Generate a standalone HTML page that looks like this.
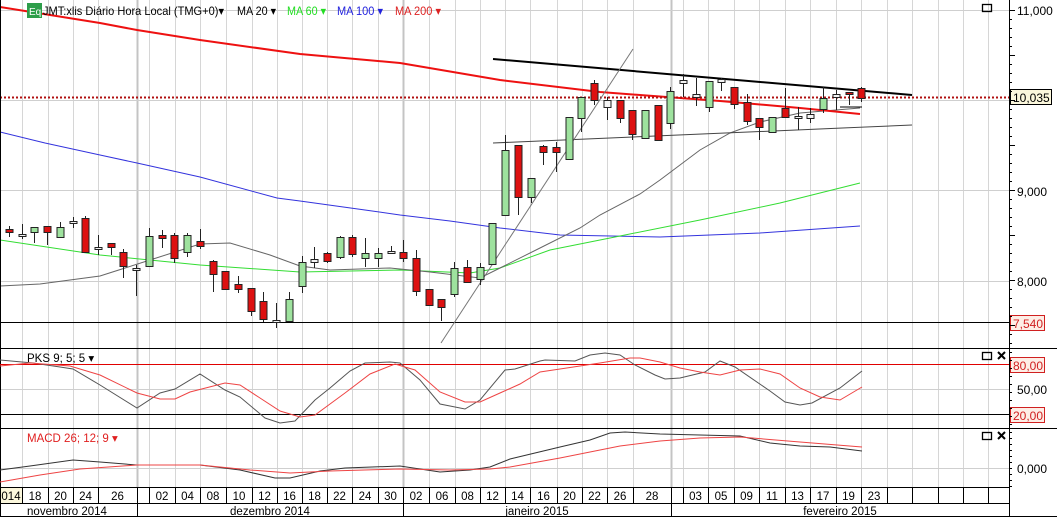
<!DOCTYPE html>
<html><head><meta charset="utf-8"><style>
html,body{margin:0;padding:0;background:#fff;}
svg{display:block;font-family:"Liberation Sans",sans-serif;}
</style></head><body>
<svg id="s" width="1057" height="517" xmlns="http://www.w3.org/2000/svg">
<rect x="0" y="0" width="1057" height="517" fill="#fff"/>
<g id="grid" stroke="#c8c8c8" stroke-width="1"></g>
<g stroke="#cfcfcf" stroke-width="1">
<line x1="0" y1="10.5" x2="1009" y2="10.5"/>
<line x1="0" y1="100.5" x2="1009" y2="100.5"/>
<line x1="0" y1="190.5" x2="1009" y2="190.5"/>
<line x1="0" y1="281.5" x2="1009" y2="281.5"/>
<line x1="0" y1="389.5" x2="1009" y2="389.5"/>
<line x1="0" y1="468.5" x2="1009" y2="468.5"/>
</g>
<g id="mas" fill="none"></g>
<line x1="0" y1="97.5" x2="1009" y2="97.5" stroke="#b01010" stroke-width="2" stroke-dasharray="2,2"/>
<line x1="0" y1="322.5" x2="1009" y2="322.5" stroke="#000" stroke-width="1"/>
<line x1="493" y1="59" x2="912" y2="95" stroke="#000" stroke-width="2"/>
<line x1="493" y1="143" x2="912" y2="125" stroke="#444" stroke-width="1"/>
<line x1="441" y1="343" x2="633" y2="49" stroke="#777" stroke-width="1"/>
<line x1="840" y1="107" x2="862" y2="107" stroke="#000" stroke-width="1"/>
<g id="candles"></g>
<g stroke="#000" stroke-width="1">
<line x1="0.5" y1="0" x2="0.5" y2="517"/>
<line x1="1009.5" y1="0" x2="1009.5" y2="517"/>
<line x1="0" y1="348.5" x2="1057" y2="348.5"/>
<line x1="0" y1="428.5" x2="1057" y2="428.5"/>
<line x1="0" y1="487.5" x2="1009" y2="487.5"/>
<line x1="0" y1="503.5" x2="1009" y2="503.5"/>
<line x1="0" y1="516.5" x2="1057" y2="516.5"/>
</g>
<line x1="0" y1="364.5" x2="1009" y2="364.5" stroke="#e00000" stroke-width="1"/>
<line x1="0" y1="414.5" x2="1009" y2="414.5" stroke="#000" stroke-width="1"/>
<g id="ind" fill="none"></g>
<g id="axis" font-size="11.5" fill="#000"></g>
<rect x="27" y="3" width="15" height="15" fill="#2e9e4a"/>
<text x="29" y="15" font-size="10" fill="#fff">Eq</text>
<text x="43" y="15" font-size="12" textLength="181" lengthAdjust="spacingAndGlyphs">JMT:xlis Diário Hora Local (TMG+0)▾</text>
<text x="237" y="15" font-size="12" textLength="39" lengthAdjust="spacingAndGlyphs">MA 20 ▾</text>
<text x="287" y="15" font-size="12" fill="#22dd22" textLength="39" lengthAdjust="spacingAndGlyphs">MA 60 ▾</text>
<text x="337" y="15" font-size="12" fill="#2222dd" textLength="46" lengthAdjust="spacingAndGlyphs">MA 100 ▾</text>
<text x="395" y="15" font-size="12" fill="#dd2222" textLength="46" lengthAdjust="spacingAndGlyphs">MA 200 ▾</text>
<text x="27" y="362" font-size="11.5">PKS 9; 5; 5 ▾</text>
<text x="27" y="442" font-size="11.5" fill="#e02020">MACD 26; 12; 9 ▾</text>
<g fill="none" stroke="#000" stroke-width="1.3">
<rect x="982.5" y="4.5" width="9" height="7"/>
<rect x="982.5" y="352.5" width="9" height="7"/>
<rect x="982.5" y="432.5" width="9" height="7"/>
<path d="M998 352 l7 7 M1005 352 l-7 7 M998 432 l7 7 M1005 432 l-7 7" stroke-width="2"/>
</g>
<g font-size="12">
<text x="1017" y="15">11,000</text>
<rect x="1010.5" y="89.5" width="41" height="15" fill="#fbf7dc" stroke="#000"/>
<text x="1013" y="102">10,035</text>
<text x="1017" y="196">9,000</text>
<text x="1017" y="286">8,000</text>
<rect x="1010.5" y="315.5" width="34" height="15" fill="#fdeee6" stroke="#d02020"/>
<text x="1013" y="328" fill="#d02020">7,540</text>
<rect x="1010.5" y="357.5" width="34" height="15" fill="#fdeee6" stroke="#d02020"/>
<text x="1013" y="370" fill="#d02020">80,00</text>
<text x="1017" y="394">50,00</text>
<rect x="1010.5" y="407.5" width="34" height="15" fill="#fdeee6" stroke="#d02020"/>
<text x="1013" y="420" fill="#d02020">20,00</text>
<text x="1017" y="473">0,000</text>
</g>
<g id="ticks" stroke="#000"></g>
</svg>
<script>
var NS="http://www.w3.org/2000/svg";
function el(p,t,a){var e=document.createElementNS(NS,t);for(var k in a)e.setAttribute(k,a[k]);p.appendChild(e);return e;}
var b=[22,48,73,98,137,149,175,200,226,252,277,302,327,352,378,403,429,455,480,505,530,557,582,607,633,671,683,708,734,759,785,810,836,861,887,912,938,963,988];
var bold={137:1,403:1,671:1};
var g=document.getElementById('grid');
b.forEach(function(x){el(g,'line',{x1:x+.5,y1:0,x2:x+.5,y2:487,'stroke':bold[x]?'#c4c4c4':'#d6d6d6','stroke-width':bold[x]?2:1});});
var ax=document.getElementById('axis');
el(ax,'rect',{x:1,y:488,width:21,height:15,fill:'#fbf7dc'});
b.forEach(function(x){el(ax,'line',{x1:x+.5,y1:488,x2:x+.5,y2:503,stroke:'#000'});});
[137,403,671].forEach(function(x){el(ax,'line',{x1:x+.5,y1:503,x2:x+.5,y2:517,stroke:'#000'});});
var labs=["014","18","20","24","26","","02","04","08","10","12","16","18","22","24","30","02","06","08","12","14","16","20","22","26","28","","03","05","09","11","13","17","19","23"];
var edges=[0].concat(b);
labs.forEach(function(t,i){if(!t)return;var c=(edges[i]+edges[i+1])/2;var tx=el(ax,'text',{x:c,y:500,'text-anchor':'middle'});tx.textContent=t;});
[["novembro 2014",67],["dezembro 2014",270],["janeiro 2015",537],["fevereiro 2015",840]].forEach(function(m){var tx=el(ax,'text',{x:m[1],y:515,'text-anchor':'middle'});tx.textContent=m[0];});
var tk=document.getElementById('ticks');
for(var y=10;y<345;y+=9)el(tk,'line',{x1:1009,y1:y+.5,x2:y%45==10?1015:1012,y2:y+.5});
for(var y=352;y<428;y+=8)el(tk,'line',{x1:1009,y1:y+.5,x2:1012,y2:y+.5});
for(var y=432;y<487;y+=6)el(tk,'line',{x1:1009,y1:y+.5,x2:1012,y2:y+.5});
function pl(p,pts,col,w){el(p,'polyline',{points:pts.map(function(q){return q.join(',')}).join(' '),stroke:col,'stroke-width':w,fill:'none'});}
var m=document.getElementById('mas');
pl(m,[[0,132],[45,143],[100,155],[137,163],[200,177],[277,198],[300,201],[365,210],[400,215],[450,221],[500,228],[560,235],[660,237],[760,233],[860,226]],'#3333dd',1);
pl(m,[[0,240],[100,255],[200,265],[300,272],[400,270],[470,273],[500,268],[550,250],[620,236],[700,220],[780,203],[860,183]],'#33dd33',1);
pl(m,[[0,286],[40,284],[100,276],[150,260],[200,244],[230,243],[270,255],[300,266],[330,270],[390,268],[430,272],[480,278],[500,268],[540,248],[580,228],[600,215],[640,194],[660,180],[700,150],[730,133],[760,122],[800,113],[860,108]],'#666',1);
pl(m,[[0,7],[100,23],[137,30],[200,40],[300,54],[400,63],[500,80],[600,92],[720,101],[800,108],[860,114]],'#ee1111',2);
var cd=[[229,232,226,237,'r'],[234,235,224,239,'w'],[227,232,227,243,'g'],[226,232,226,245,'r'],[227,237,222,237,'g'],[221,223,217,228,'w'],[218,252,216,252,'r'],[247,249,235,255,'w'],[243,247,243,255,'r'],[252,266,249,278,'r'],[268,270,265,296,'w'],[236,266,228,266,'g'],[235,238,230,248,'r'],[235,258,233,263,'r'],[235,252,233,257,'g'],[241,246,229,249,'r'],[261,274,260,292,'r'],[271,289,271,289,'r'],[284,289,276,293,'r'],[288,311,288,316,'r'],[301,319,292,322,'r'],[320,322,303,328,'w'],[299,321,292,321,'g'],[262,286,256,293,'g'],[259,262,247,268,'w'],[253,261,252,263,'r'],[237,257,236,259,'g'],[237,254,235,257,'r'],[253,258,238,267,'g'],[253,258,248,267,'g'],[251,253,246,254,'w'],[252,258,240,262,'r'],[258,291,250,296,'r'],[289,305,289,305,'r'],[299,307,299,321,'r'],[268,294,262,297,'g'],[267,282,260,283,'r'],[267,279,263,285,'g'],[223,264,223,264,'g'],[150,215,135,215,'g'],[145,197,145,215,'r'],[178,197,178,203,'g'],[146,152,145,165,'r'],[147,152,142,172,'r'],[117,159,117,159,'g'],[97,118,97,132,'g'],[83,100,80,105,'r'],[100,107,97,120,'w'],[100,118,100,123,'r'],[110,134,110,140,'r'],[110,138,110,138,'g'],[105,140,105,140,'r'],[91,123,87,129,'g'],[80,83,74,97,'w'],[94,97,78,106,'w'],[81,107,81,112,'g'],[79,82,78,91,'w'],[87,104,87,109,'r'],[102,121,94,125,'r'],[118,127,118,140,'r'],[117,132,117,132,'g'],[108,117,88,117,'r'],[116,118,107,130,'w'],[114,118,108,123,'w'],[98,109,87,113,'g'],[94,97,90,110,'w'],[92,94,92,105,'r'],[88,98,87,102,'r']];
var cg=document.getElementById('candles');
cd.forEach(function(c,i){var x=Math.round(9+i*12.72);
el(cg,'line',{x1:x+.5,y1:c[2],x2:x+.5,y2:c[3],stroke:'#222','stroke-width':1});
var f=c[4]=='g'?'#9ee29e':c[4]=='r'?'#dd1111':'#f4f4f4';
el(cg,'rect',{x:x-3,y:c[0]+.5,width:7,height:Math.max(2,c[1]-c[0]),fill:f,stroke:'#222','stroke-width':1});});
var ig=document.getElementById('ind');
pl(ig,[[0,360],[33,363],[60,367],[73,369],[100,385],[137,408],[160,393],[175,389],[200,374],[225,390],[240,397],[265,418],[280,423],[295,421],[315,400],[330,388],[350,371],[365,363],[390,362],[400,363],[420,380],[440,404],[465,409],[480,400],[505,370],[515,369],[540,361],[545,360],[575,361],[590,355],[605,353],[620,355],[635,365],[655,375],[665,379],[680,378],[705,372],[720,361],[735,367],[770,391],[785,402],[800,405],[812,403],[840,388],[862,371]],'#555',1);
pl(ig,[[0,366],[30,363],[70,366],[100,375],[137,393],[160,399],[175,399],[190,392],[225,383],[240,385],[260,398],[280,411],[300,417],[315,415],[345,393],[370,374],[395,364],[415,370],[440,392],[465,402],[480,402],[500,393],[520,384],[540,372],[560,369],[580,366],[600,363],[630,358],[640,358],[660,362],[680,368],[700,372],[720,375],[740,370],[760,369],[780,374],[800,388],[820,397],[840,400],[862,387]],'#ee4444',1);
pl(ig,[[0,470],[30,466],[73,460],[100,462],[137,465],[200,465],[240,470],[275,478],[290,478],[320,471],[345,468],[400,466],[440,472],[470,470],[490,467],[510,459],[560,447],[590,440],[610,433],[625,432],[660,434],[700,435],[740,436],[770,443],[800,446],[830,447],[862,451]],'#333',1);
pl(ig,[[0,482],[40,475],[80,469],[137,465],[200,465],[250,470],[290,473],[330,471],[400,469],[450,470],[490,469],[510,467],[560,458],[620,446],[660,441],[700,438],[740,437],[800,442],[862,447]],'#ee4444',1);
</script>
</body></html>
